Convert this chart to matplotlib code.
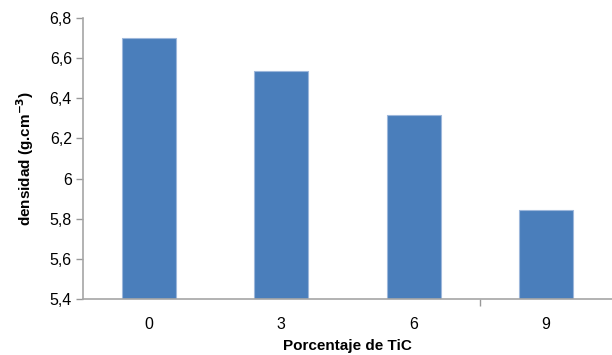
import numpy as np
import matplotlib
matplotlib.use("Agg")
import matplotlib.pyplot as plt
from matplotlib.ticker import FuncFormatter, FixedLocator

# ==== datos
categorias = ["0", "3", "6", "9"]
densidad   = [6.70, 6.535, 6.315, 5.845]
y_ticks    = [5.4, 5.6, 5.8, 6.0, 6.2, 6.4, 6.6, 6.8]

plt.rcParams["font.family"] = ["Liberation Sans", "DejaVu Sans"]

fig = plt.figure(figsize=(6.12, 3.55), dpi=100)
ax = fig.add_axes([0.1356, 0.158, 0.8644, 0.791])

x = np.arange(len(categorias))
ax.bar(x, densidad, width=0.41, bottom=0, color="#4A7EBB",
       edgecolor="#9DB7DB", linewidth=0.8, zorder=2)

ax.set_xlim(-0.5, len(categorias) - 0.5)
ax.set_ylim(5.4, 6.8)
ax.set_yticks(y_ticks)

def coma(v, pos):
    s = f"{v:.1f}"
    if s.endswith(".0"):
        s = s[:-2]
    return s.replace(".", ",")
ax.yaxis.set_major_formatter(FuncFormatter(coma))

ax.set_xticks(x)
ax.set_xticklabels(categorias)
# solo una marca visible entre categorías (como en el original)
ax.xaxis.set_minor_locator(FixedLocator([2.5]))
ax.tick_params(axis="x", which="major", length=0, pad=13, labelsize=11.5, colors="#000000")
ax.tick_params(axis="x", which="minor", length=5, width=1, color="#999999", direction="out")
ax.tick_params(axis="y", length=5, width=1, color="#999999", labelsize=11.5, pad=3)

for s in ["top", "right"]:
    ax.spines[s].set_visible(False)
for s in ["left", "bottom"]:
    ax.spines[s].set_color("#A6A6A6")
    ax.spines[s].set_linewidth(1.2)

ax.set_xlabel("Porcentaje de TiC", fontsize=11, fontweight="bold", labelpad=5)
ax.set_ylabel(r"densidad (g.cm$^{\mathbf{-3}}$)", fontsize=11, fontweight="bold", labelpad=10)

fig.savefig("out.png", dpi=100)
